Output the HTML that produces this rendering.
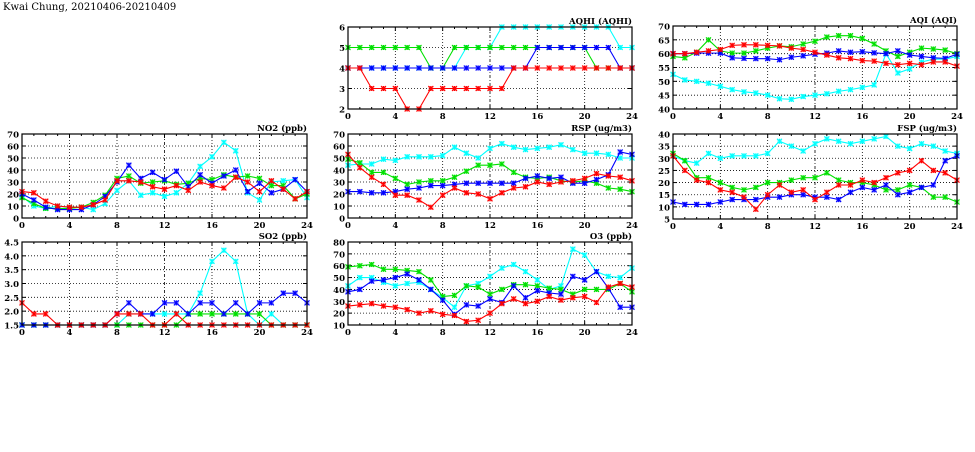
<!DOCTYPE html>
<html><head><meta charset="utf-8"><style>
html,body{margin:0;padding:0;background:#fff;}
svg text{font-family:"DejaVu Serif","Liberation Serif",serif;font-weight:bold;fill:#000;}
</style></head><body>
<svg id="s" width="975" height="447" xmlns="http://www.w3.org/2000/svg">
<text x="3" y="10" font-size="10" style="font-weight:normal">Kwai Chung, 20210406-20210409</text>
</svg>
<script>
const C={r:"#ff0000",g:"#00e000",b:"#0000ff",c:"#00ffff"};
const P=[
{x0:348,x1:632,y0:27,y1:109,mn:2,mx:6,st:1,t:"AQHI (AQHI)",d:{
g:[5,5,5,5,5,5,5,4,4,5,5,5,5,5,5,5,5,5,5,5,5,4,4,4,4],
c:[4,4,4,4,4,4,4,4,4,4,5,5,5,6,6,6,6,6,6,6,6,6,6,5,5],
b:[4,4,4,4,4,4,4,4,4,4,4,4,4,4,4,4,5,5,5,5,5,5,5,4,4],
r:[4,4,3,3,3,2,2,3,3,3,3,3,3,3,4,4,4,4,4,4,4,4,4,4,4]}},
{x0:673,x1:957,y0:26,y1:109,mn:40,mx:70,st:5,t:"AQI (AQI)",d:{
c:[52.5,50.5,50,49.3,48.2,47,46.2,45.8,45,43.7,43.5,44.5,45,45.5,46.4,47,47.8,48.7,60,53,54.5,57,58,58,59],
g:[59,58.5,60.5,65,61,60.2,60.2,61,62,62.8,62.5,63.5,64.5,66,66.5,66.5,65.5,63.5,61,59,60.5,62,61.7,61.3,60],
b:[60,60,60.2,60.2,60.2,58.5,58.3,58.2,58.2,57.8,58.7,59.2,59.8,60.2,61,60.5,60.7,60.3,60,61,59.5,59,58.5,58.3,59.8],
r:[60,60,60.5,61,61.5,63,63.2,63.2,63,62.8,62,61.5,60.5,59.5,58.5,58.2,57.5,57.3,56.5,56,56.5,56,57,57,55.5]}},
{x0:22,x1:307,y0:134,y1:218,mn:0,mx:70,st:10,t:"NO2 (ppb)",d:{
c:[18,10,8,10,9,9,7,12,23,31,19,21,18,21,29,43,51,63,56,21,15,30,31,32,17],
g:[17,12,8,8,8,9,13,19,33,35,29,30,31,28,29,33,32,36,34,35,33,27,27,16,20],
b:[20,15,9,7,7,7,11,18,30,44,33,38,32,39,26,36,29,35,40,22,29,21,24,32,22],
r:[22,21,14,10,9,9,11,15,31,31,30,26,24,27,23,30,27,25,34,30,22,31,24,16,22]}},
{x0:348,x1:632,y0:134,y1:218,mn:0,mx:70,st:10,t:"RSP (ug/m3)",d:{
c:[44,45,45,49,48,51,51,51,52,59,54,50,58,62,59,57,58,59,61,57,54,54,53,50,50],
g:[49,46,38,38,33,28,30,31,31,34,39,44,44,45,38,34,33,34,31,30,31,29,25,24,22],
b:[22,22,21,21,22,24,25,27,27,28,29,29,29,29,29,33,35,33,34,29,29,32,36,55,53],
r:[53,42,34,28,19,19,15,9,19,25,21,20,16,21,25,26,30,28,30,31,33,37,35,34,31]}},
{x0:673,x1:957,y0:134,y1:219,mn:5,mx:40,st:5,t:"FSP (ug/m3)",d:{
c:[31,29,28,32,30,31,31,31,32,37,35,33,36,38,37,36,37,38,39,35,34,36,35,33,32],
g:[32,29,22,22,20,18,17,18,20,20,21,22,22,24,21,20,20,19,17,17,19,18,14,14,12],
b:[12,11,11,11,12,13,13,13,14,14,15,15,14,14,13,16,18,17,19,15,16,18,19,29,31],
r:[31,25,21,20,17,16,14,9,15,19,16,17,13,16,19,19,21,20,22,24,25,29,25,24,21]}},
{x0:22,x1:307,y0:242,y1:325,mn:1.5,mx:4.5,st:0.5,dec:1,t:"SO2 (ppb)",d:{
c:[1.5,1.5,1.5,1.5,1.5,1.5,1.5,1.5,1.5,1.9,1.9,1.9,1.9,1.9,1.9,2.65,3.8,4.2,3.8,1.9,1.5,1.9,1.5,1.5,1.5],
g:[1.5,1.5,1.5,1.5,1.5,1.5,1.5,1.5,1.5,1.5,1.5,1.5,1.5,1.5,1.9,1.9,1.9,1.9,1.9,1.9,1.9,1.5,1.5,1.5,1.5],
b:[1.5,1.5,1.5,1.5,1.5,1.5,1.5,1.5,1.9,2.3,1.9,1.9,2.3,2.3,1.9,2.3,2.3,1.9,2.3,1.9,2.3,2.3,2.65,2.65,2.3],
r:[2.3,1.9,1.9,1.5,1.5,1.5,1.5,1.5,1.9,1.9,1.9,1.5,1.5,1.9,1.5,1.5,1.5,1.5,1.5,1.5,1.5,1.5,1.5,1.5,1.5]}},
{x0:348,x1:632,y0:242,y1:325,mn:10,mx:80,st:10,t:"O3 (ppb)",d:{
c:[43,50,50,46,43,45,46,40,33,25,43,45,51,58,61,55,48,40,43,74,69,55,51,50,58],
g:[59,60,61,57,57,56,55,48,34,35,43,42,36,40,44,44,43,41,40,36,40,40,40,45,38],
b:[38,40,47,48,50,53,48,40,31,19,27,26,32,29,43,33,39,37,36,51,48,55,41,25,25],
r:[26,27,28,26,25,23,20,22,19,18,13,14,20,28,32,28,30,34,31,33,34,29,42,45,42]}}
];
let h="";
for(const p of P){
 const X=i=>p.x0+(p.x1-p.x0)*i/24, Y=v=>p.y1-(p.y1-p.y0)*(v-p.mn)/(p.mx-p.mn);
 for(let v=p.mn;v<=p.mx+1e-9;v+=p.st){const y=Y(v);
  if(v>p.mn+1e-9&&v<p.mx-1e-9)h+=`<line x1="${p.x0}" x2="${p.x1}" y1="${y}" y2="${y}" stroke="#000" stroke-width="0.8" stroke-dasharray="1,2"/>`;
  h+=`<line x1="${p.x0}" x2="${p.x0+4}" y1="${y}" y2="${y}" stroke="#000"/><line x1="${p.x1-4}" x2="${p.x1}" y1="${y}" y2="${y}" stroke="#000"/>`;
  h+=`<text x="${p.x0-3}" y="${y+3.5}" font-size="8.5" text-anchor="end">${p.dec?v.toFixed(1):Math.round(v)}</text>`;}
 for(let i=0;i<=24;i++){const x=X(i);const L=i%4==0?4:2;
  h+=`<line x1="${x}" x2="${x}" y1="${p.y1}" y2="${p.y1-L}" stroke="#000"/><line x1="${x}" x2="${x}" y1="${p.y0}" y2="${p.y0+L}" stroke="#000"/>`;
  if(i%4==0){ if(i>0&&i<24)h+=`<line x1="${x}" x2="${x}" y1="${p.y0}" y2="${p.y1}" stroke="#000" stroke-width="0.8" stroke-dasharray="${i==12?'3,2,1,2':'1,2'}"/>`;
   h+=`<text x="${x}" y="${p.y1+10}" font-size="8.5" text-anchor="middle">${i}</text>`;}}
 for(const k of ["c","g","b","r"]){const a=p.d[k];
  h+=`<polyline fill="none" stroke="${C[k]}" stroke-width="1.1" points="${a.map((v,i)=>X(i)+","+Y(v)).join(" ")}"/>`;
  a.forEach((v,i)=>{const x=X(i),y=Y(v);
   h+=`<rect x="${x-2.5}" y="${y-2.5}" width="5" height="5" fill="${C[k]}" fill-opacity="0.35"/><path d="M${x-2.5} ${y-2.5}L${x+2.5} ${y+2.5}M${x+2.5} ${y-2.5}L${x-2.5} ${y+2.5}M${x} ${y-2.5}V${y+2.5}" stroke="${C[k]}" stroke-width="1.1"/>`;});}
 h+=`<rect x="${p.x0}" y="${p.y0}" width="${p.x1-p.x0}" height="${p.y1-p.y0}" fill="none" stroke="#000" stroke-width="1.2"/>`;
 h+=`<text x="${p.x1}" y="${p.y0-3}" font-size="8.5" text-anchor="end">${p.t}</text>`;
}
document.getElementById("s").insertAdjacentHTML("beforeend",h);
</script>
</body></html>
